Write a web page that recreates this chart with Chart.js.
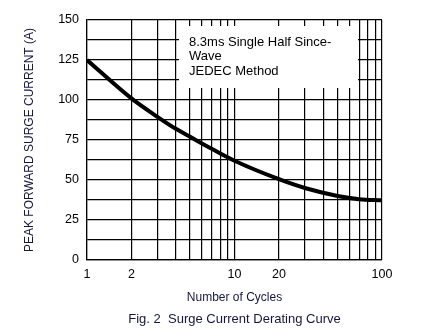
<!DOCTYPE html>
<html>
<head>
<meta charset="utf-8">
<script src="https://cdn.jsdelivr.net/npm/chart.js@4/dist/chart.umd.min.js"></script>
<style>
  html, body { margin: 0; padding: 0; background: #fff; }
  #wrap { width: 425px; height: 336px; }
</style>
</head>
<body>
<div id="wrap"><canvas id="surgechart" width="425" height="336"></canvas></div>
<script>
// curve
const cycles = [1, 2, 3, 4, 5, 7, 10, 20, 30, 50, 70, 100]
const current = [125, 101, 89.5, 82, 77, 69.5, 62, 50.5, 45, 40, 38, 37.3]

// axis ticks
const xGrid = [1, 2, 3, 4, 5, 6, 7, 8, 9, 10, 20, 30, 40, 50, 60, 70, 80, 90, 100]
const xLabels = [1, 2, 10, 20, 100]
const yLabels = [0, 25, 50, 75, 100, 125, 150]

const noteLines = ['8.3ms Single Half Since-', 'Wave', 'JEDEC Method']
const caption = 'Fig. 2  Surge Current Derating Curve'

const fontFam = "'Liberation Sans', Arial, sans-serif"
const titleColor = '#16163f'

// white note box on the grid + figure caption under the chart
const extras = {
  id: 'extras',
  beforeDatasetsDraw(chart) {
    const ctx = chart.ctx
    ctx.save()
    ctx.fillStyle = '#fff'
    ctx.fillRect(179, 26, 179, 62)
    ctx.fillStyle = '#000'
    ctx.font = '13px ' + fontFam
    ctx.textBaseline = 'middle'
    noteLines.forEach(function (t, i) {
      ctx.fillText(t, 189, 42 + i * 14.5)
    })
    ctx.restore()
  },
  afterDraw(chart) {
    const ctx = chart.ctx
    const area = chart.chartArea
    ctx.save()
    ctx.fillStyle = titleColor
    ctx.font = '13px ' + fontFam
    ctx.textAlign = 'center'
    ctx.textBaseline = 'middle'
    ctx.fillText(caption, (area.left + area.right) / 2, 319)
    ctx.restore()
  }
}

const points = cycles.map(function (c, i) {
  return { x: c, y: current[i] }
})

new Chart(document.getElementById('surgechart'), {
  type: 'line',
  data: {
    datasets: [{
      label: 'Surge current',
      data: points,
      borderColor: '#000',
      borderWidth: 4,
      pointRadius: 0,
      cubicInterpolationMode: 'monotone',
      fill: false
    }]
  },
  options: {
    responsive: false,
    animation: false,
    layout: { padding: { top: 20, right: 43, left: 0, bottom: 0 } },
    plugins: {
      legend: { display: false },
      tooltip: { enabled: false }
    },
    scales: {
      x: {
        type: 'logarithmic',
        min: 1,
        max: 100,
        afterBuildTicks: function (scale) {
          scale.ticks = xGrid.map(function (v) { return { value: v } })
        },
        afterFit: function (scale) { scale.height = 76 },
        grid: { color: '#000', lineWidth: 1.2, drawTicks: false },
        border: { color: '#000', width: 1.2 },
        ticks: {
          autoSkip: false,
          maxRotation: 0,
          padding: 7,
          color: '#000',
          font: { family: fontFam, size: 12.5 },
          callback: function (v) { return xLabels.includes(v) ? String(v) : '' }
        },
        title: {
          display: true,
          text: 'Number of Cycles',
          color: titleColor,
          font: { family: fontFam, size: 12 },
          padding: { top: 0, bottom: 31 }
        }
      },
      y: {
        min: 0,
        max: 150,
        afterFit: function (scale) { scale.width = 87 },
        grid: { color: '#000', lineWidth: 1.2, drawTicks: false },
        border: { color: '#000', width: 1.2 },
        ticks: {
          stepSize: 12.5,
          padding: 8,
          color: '#000',
          font: { family: fontFam, size: 12.5 },
          callback: function (v) { return yLabels.includes(v) ? String(v) : '' }
        },
        title: {
          display: true,
          text: 'PEAK FORWARD SURGE CURRENT (A)',
          color: titleColor,
          font: { family: fontFam, size: 12 },
          padding: { top: 22, bottom: 0 }
        }
      }
    }
  },
  plugins: [extras]
})
</script>
</body>
</html>
